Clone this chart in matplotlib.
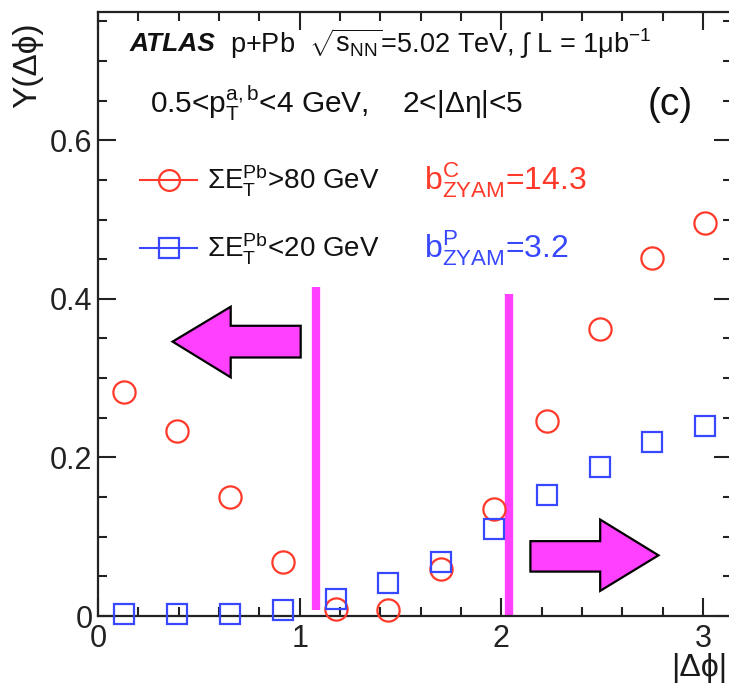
import numpy as np
import matplotlib
matplotlib.use("Agg")
import matplotlib.pyplot as plt
from matplotlib.lines import Line2D
from matplotlib.patches import Polygon
from matplotlib.ticker import MultipleLocator

plt.rcParams['font.family'] = ['Liberation Sans', 'DejaVu Sans']
plt.rcParams['mathtext.fontset'] = 'custom'
plt.rcParams['mathtext.rm'] = 'Liberation Sans'
plt.rcParams['mathtext.it'] = 'Liberation Sans:italic'
plt.rcParams['mathtext.bf'] = 'Liberation Sans:bold'

# ---- data ----
dphi = [0.131, 0.393, 0.654, 0.916, 1.178, 1.440, 1.702, 1.963, 2.225, 2.487, 2.749, 3.011]
y_central = [0.283, 0.233, 0.150, 0.068, 0.009, 0.008, 0.059, 0.135, 0.246, 0.362, 0.451, 0.496]
y_periph = [0.003, 0.002, 0.003, 0.008, 0.022, 0.042, 0.068, 0.110, 0.152, 0.188, 0.220, 0.240]

label_central = r'$\mathrm{\Sigma E_T^{Pb}}$>80 GeV'
label_periph = r'$\mathrm{\Sigma E_T^{Pb}}$<20 GeV'
b_central = r'$\mathrm{b^{C}_{ZYAM}}$=14.3'
b_periph = r'$\mathrm{b^{P}_{ZYAM}}$=3.2'

# magenta vertical bars: x, y-bottom, y-top
vline_x = [1.08, 2.04]
vline_ylo = [0.008, 0.0]
vline_yhi = [0.415, 0.406]

# arrows (data coords)
left_arrow = [(0.37, 0.346), (0.658, 0.390), (0.658, 0.366), (1.005, 0.366),
              (1.005, 0.326), (0.658, 0.326), (0.658, 0.301)]
right_arrow = [(2.144, 0.0944), (2.49, 0.0944), (2.49, 0.1216), (2.779, 0.0765),
               (2.49, 0.0317), (2.49, 0.056), (2.144, 0.056)]

RED = '#ff3a2a'
BLUE = '#3848ff'
MAG = '#ff40ff'
TXT = '#1a1a1a'

fig = plt.figure(figsize=(7.29, 6.87), dpi=100)
W, H = 729, 687
ax = fig.add_axes([98 / W, 1 - 616 / H, (731.6 - 98) / W, (616 - 12) / H])
ax.set_xlim(0, np.pi)
ax.set_ylim(0, 0.7617)

# vertical lines
for x, lo, hi in zip(vline_x, vline_ylo, vline_yhi):
    ax.plot([x, x], [lo, hi], color=MAG, lw=6, solid_capstyle='butt', zorder=2)

# arrows
for pts in (left_arrow, right_arrow):
    ax.add_patch(Polygon(pts, closed=True, facecolor=MAG, edgecolor='black', lw=1.6, zorder=2))

ax.plot(dphi, y_central, ls='none', marker='o', ms=16, mfc='none', mec=RED, mew=1.6, zorder=3, clip_on=False)
ax.plot(dphi, y_periph, ls='none', marker='s', ms=15, mfc='none', mec=BLUE, mew=1.6, zorder=3, clip_on=False)

# ticks
ax.xaxis.set_major_locator(MultipleLocator(1))
ax.xaxis.set_minor_locator(MultipleLocator(0.2))
ax.yaxis.set_major_locator(MultipleLocator(0.2))
ax.yaxis.set_minor_locator(MultipleLocator(0.05))
ax.tick_params(which='both', direction='in', top=True, right=True, width=1.5, labelsize=22, colors='#222222')
ax.tick_params(which='major', length=13)
ax.tick_params(which='minor', length=6.5)
ax.tick_params(axis='x', pad=6)
ax.tick_params(axis='y', pad=4)
ax.set_xticks([0, 1, 2, 3])
ax.set_xticklabels(['0', '1', '2', '3'])
ax.set_yticks([0, 0.2, 0.4, 0.6])
ax.set_yticklabels(['0', '0.2', '0.4', '0.6'])
for s in ax.spines.values():
    s.set_linewidth(1.6)
    s.set_color('#222222')


def px(x, y):
    return x / W, 1 - y / H


# axis labels
fig.text(*px(28, 65), 'Y(\u0394\u03d5)', rotation=90, ha='center', va='center', fontsize=24, color=TXT)
fig.text(*px(727, 668), '|\u0394\u03d5|', ha='right', va='center', fontsize=23, color=TXT)

# header text
fig.text(*px(130, 44), 'ATLAS', fontsize=19, fontweight='bold', fontstyle='italic', va='center', ha='left', color='#111111')
fig.text(*px(230, 44), r'p+Pb  $\sqrt{\mathrm{s_{NN}}}$=5.02 TeV, $\int$ L = 1$\mathrm{\mu}$b$^{-1}$',
         fontsize=19.5, va='center', ha='left', color='#111111')
fig.text(*px(150, 103), '0.5<$\\mathrm{p_T^{a,b}}$<4 GeV,    2<|\u0394\u03b7|<5', fontsize=21.5, va='center', ha='left', color='#111111')
fig.text(*px(693, 105), '(c)', fontsize=28, va='center', ha='right', color='#111111')

# legend
for yy, col, mk, lab, bl in [(180, RED, 'o', label_central, b_central), (248, BLUE, 's', label_periph, b_periph)]:
    x0, y0 = px(140, yy)
    x1, _ = px(197, yy)
    fig.add_artist(Line2D([x0, x1], [y0, y0], color=col, lw=1.5, transform=fig.transFigure))
    fig.add_artist(Line2D([(x0 + x1) / 2], [y0], marker=mk, ms=15 if mk == 'o' else 14, mfc='none', mec=col, mew=1.6,
                          transform=fig.transFigure))
    fig.text(*px(207, yy), lab, fontsize=20, va='center', ha='left', color='#111111')
    fig.text(*px(424, yy), bl, fontsize=23, va='center', ha='left', color=col)

fig.savefig('out.png', dpi=100)
